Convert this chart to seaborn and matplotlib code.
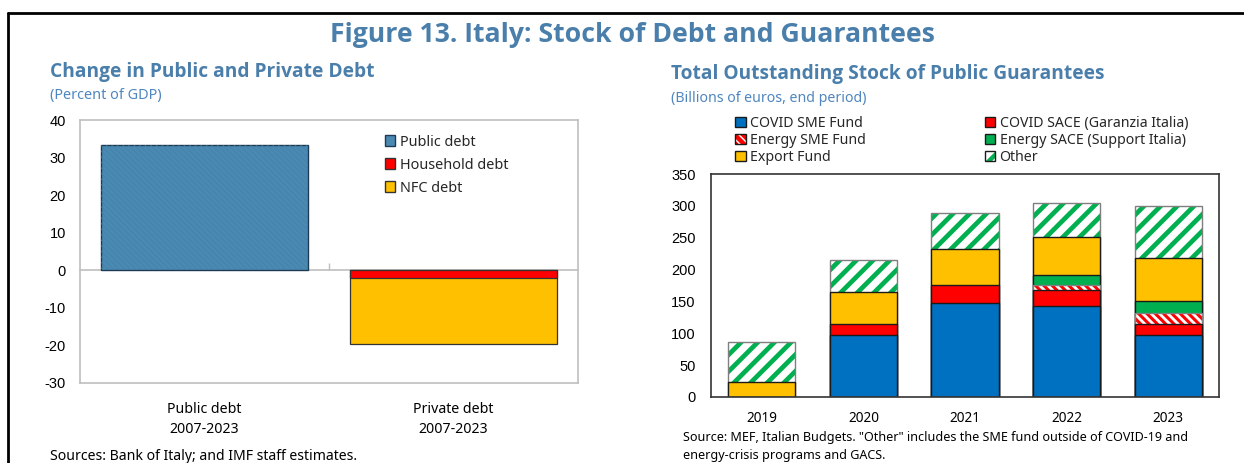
import matplotlib
matplotlib.use("Agg")
import matplotlib.pyplot as plt
from matplotlib.patches import Patch
from matplotlib.lines import Line2D
import numpy as np
import pandas as pd
import seaborn as sns

# ---- data -------------------------------------------------------------
debt_categories = ["Public debt\n2007-2023", "Private debt\n2007-2023"]
public_debt = [33.4, 0.0]
household_debt = [0.0, -2.0]
nfc_debt = [0.0, -17.7]

years = ["2019", "2020", "2021", "2022", "2023"]
covid_sme_fund = [0, 97, 148, 143, 97]
covid_sace = [0, 18, 28, 25, 18]
energy_sme_fund = [0, 0, 0, 8, 17]
energy_sace = [0, 0, 0, 16, 18]
export_fund = [23, 50, 56, 59, 68]
other = [63, 50, 57, 53, 82]

# ---- style ------------------------------------------------------------
sns.set_theme(style="white")
plt.rcParams["font.family"] = ["Noto Sans", "DejaVu Sans"]
plt.rcParams["axes.unicode_minus"] = False
plt.rcParams["hatch.linewidth"] = 3.2

TITLE_BLUE = "#4A7EAB"
SUB_BLUE = "#4F86BF"
BLUE = "#0070C0"
RED = "#FF0000"
YELLOW = "#FFC000"
GREEN = "#00B050"
PUB_BLUE = "#4A8AB2"
EDGE = "#1A1A1A"

fig = plt.figure(figsize=(12.44, 4.63), dpi=100)


def px(x, y):
    return x / 1244, 1 - y / 463


def set_hatch_lw(patches, lw):
    for p in patches:
        try:
            p.set_hatch_linewidth(lw)
        except AttributeError:
            pass


# outer frame (left and top edges)
fig.add_artist(Line2D([8 / 1244, 8 / 1244], [0, 1 - 12.5 / 463], color="black", lw=2,
                      transform=fig.transFigure))
fig.add_artist(Line2D([8 / 1244, 1.0], [1 - 12.5 / 463, 1 - 12.5 / 463], color="black", lw=2,
                      transform=fig.transFigure))

fig.text(*px(632, 35), "Figure 13. Italy: Stock of Debt and Guarantees", ha="center", va="center",
         fontsize=19.2, fontweight="bold", color=TITLE_BLUE, family="Open Sans")

# ======================================================================
# Left panel: change in public and private debt
# ======================================================================
axL = fig.add_axes([80 / 1244, 1 - 383 / 463, 498 / 1244, 263 / 463])

fig.text(*px(50, 72), "Change in Public and Private Debt", ha="left", va="center",
         fontsize=13.8, fontweight="bold", color=TITLE_BLUE, family="Open Sans")
fig.text(*px(50, 95), "(Percent of GDP)", ha="left", va="center", fontsize=10.4, color=SUB_BLUE)

dfL = pd.DataFrame({"cat": debt_categories, "public": public_debt,
                    "household": household_debt, "nfc": nfc_debt})
dfL["hh_nfc"] = dfL["household"] + dfL["nfc"]

BAR_WL = 0.835
pub = dfL[dfL["public"] != 0]
sns.barplot(data=pub, x="cat", y="public", order=debt_categories, color=PUB_BLUE,
            saturation=1, width=BAR_WL, edgecolor="#1E3A52", linewidth=1.0, ax=axL)
# fine diagonal texture on the public debt bar
n0 = len(axL.patches)
sns.barplot(data=pub, x="cat", y="public", order=debt_categories, color="none",
            saturation=1, width=BAR_WL, edgecolor="#4380A8", linewidth=0, hatch="\\\\\\\\\\\\",
            fill=False, ax=axL)
set_hatch_lw(axL.patches[n0:], 0.5)

priv = dfL[dfL["hh_nfc"] != 0]
sns.barplot(data=priv, x="cat", y="hh_nfc", order=debt_categories, color=YELLOW,
            saturation=1, width=BAR_WL, edgecolor="#333333", linewidth=0.9, ax=axL)
sns.barplot(data=priv, x="cat", y="household", order=debt_categories, color=RED,
            saturation=1, width=BAR_WL, edgecolor="#333333", linewidth=0.9, ax=axL)

axL.set_ylim(-30, 40)
axL.set_xlim(-0.5, 1.5)
axL.set_yticks(np.arange(-30, 41, 10))
axL.set_ylabel("")
axL.set_xlabel("")
for s in axL.spines.values():
    s.set_color("#BFBFBF")
    s.set_linewidth(1.2)
axL.tick_params(axis="y", direction="in", length=5, width=1, color="#BFBFBF", pad=10,
                labelsize=10.5, labelcolor="black")
axL.tick_params(axis="x", length=0, pad=14, labelsize=10.2, labelcolor="black")
for lab in axL.get_yticklabels():
    lab.set_family(["Liberation Sans", "DejaVu Sans"])
for lab in axL.get_xticklabels():
    lab.set_linespacing(1.4)

# category axis crossing at zero, with a divider tick between the two groups
zero_axis = axL.secondary_xaxis(30 / 70)
zero_axis.set_xticks([0.5])
zero_axis.set_xticklabels([""])
zero_axis.tick_params(axis="x", direction="in", length=5, width=1, color="#BFBFBF")
zero_axis.spines["bottom"].set_color("#BFBFBF")
zero_axis.spines["bottom"].set_linewidth(1.2)

legL = [Patch(facecolor=PUB_BLUE, edgecolor="#1E3A52", label="Public debt"),
        Patch(facecolor=RED, edgecolor="#333333", label="Household debt"),
        Patch(facecolor=YELLOW, edgecolor="#333333", label="NFC debt")]
axL.legend(handles=legL, loc="upper left", bbox_to_anchor=(0.600, 0.966), frameon=False,
           fontsize=10.4, handlelength=0.75, handleheight=0.75, handletextpad=0.3,
           labelspacing=0.55, borderaxespad=0)

fig.text(*px(50, 457), "Sources: Bank of Italy; and IMF staff estimates.", ha="left",
         va="center", fontsize=10.1, color="black")

# ======================================================================
# Right panel: outstanding stock of public guarantees
# ======================================================================
axR = fig.add_axes([711 / 1244, 1 - 397 / 463, 508 / 1244, 223 / 463])

fig.text(*px(671, 74), "Total Outstanding Stock of Public Guarantees", ha="left", va="center",
         fontsize=13.8, fontweight="bold", color=TITLE_BLUE, family="Open Sans")
fig.text(*px(671, 99), "(Billions of euros, end period)", ha="left", va="center",
         fontsize=10.2, color=SUB_BLUE)

layers = [
    ("COVID SME Fund", covid_sme_fund, dict(color=BLUE)),
    ("COVID SACE (Garanzia Italia)", covid_sace, dict(color=RED)),
    ("Energy SME Fund", energy_sme_fund, dict(hatch_color=RED, hatch="\\\\\\\\", hlw=2.2)),
    ("Energy SACE (Support Italia)", energy_sace, dict(color=GREEN)),
    ("Export Fund", export_fund, dict(color=YELLOW)),
    ("Other", other, dict(hatch_color=GREEN, hatch="//", hlw=3.4)),
]

dfR = pd.DataFrame({"year": years})
running = np.zeros(len(years))
for name, vals, _ in layers:
    running = running + np.array(vals, dtype=float)
    dfR[name] = running.copy()

BAR_W = 0.66
# draw cumulative totals from the top layer down so each segment sits on the one below
for name, vals, st in reversed(layers):
    sub = dfR[np.array(vals) != 0]
    if "hatch" in st:
        n0 = len(axR.patches)
        sns.barplot(data=sub, x="year", y=name, order=years, color="white", saturation=1,
                    width=BAR_W, linewidth=0, edgecolor=st["hatch_color"], hatch=st["hatch"],
                    ax=axR)
        set_hatch_lw(axR.patches[n0:], st["hlw"])
        sns.barplot(data=sub, x="year", y=name, order=years, color="none", saturation=1,
                    width=BAR_W, linewidth=1.0, edgecolor="#7F7F7F", fill=False, ax=axR)
    else:
        sns.barplot(data=sub, x="year", y=name, order=years, color=st["color"], saturation=1,
                    width=BAR_W, linewidth=1.0, edgecolor=EDGE, ax=axR)

axR.set_ylim(0, 350)
axR.set_xlim(-0.5, 4.5)
axR.set_yticks(np.arange(0, 351, 50))
axR.set_xlabel("")
axR.set_ylabel("")
for s in axR.spines.values():
    s.set_color("#333333")
    s.set_linewidth(1.2)
axR.tick_params(axis="y", direction="in", length=5, width=1, color="#333333", pad=11,
                labelsize=10.5, labelcolor="black")
axR.tick_params(axis="x", length=0, pad=10, labelsize=9.8, labelcolor="black")
for lab in axR.get_yticklabels():
    lab.set_family(["Liberation Sans", "DejaVu Sans"])


def hatched_handle(color, hatch, lw):
    h = Patch(facecolor="white", edgecolor=color, linewidth=0, hatch=hatch)
    set_hatch_lw([h], lw)
    return (h, Patch(facecolor="none", edgecolor=EDGE, linewidth=1.0))


handlesR = [
    Patch(facecolor=BLUE, edgecolor=EDGE),
    hatched_handle(RED, "\\\\\\\\", 2.2),
    Patch(facecolor=YELLOW, edgecolor=EDGE),
    Patch(facecolor=RED, edgecolor=EDGE),
    Patch(facecolor=GREEN, edgecolor=EDGE),
    hatched_handle(GREEN, "//", 2.2),
]
labelsR = ["COVID SME Fund", "Energy SME Fund", "Export Fund",
           "COVID SACE (Garanzia Italia)", "Energy SACE (Support Italia)", "Other"]
axR.legend(handlesR, labelsR, loc="lower left", bbox_to_anchor=(735 / 1244, 1 - 165 / 463),
           bbox_transform=fig.transFigure, ncol=2, frameon=False, fontsize=10.2,
           handlelength=0.75, handleheight=0.75, handletextpad=0.3, labelspacing=0.15,
           columnspacing=8.4, borderaxespad=0, borderpad=0)

fig.text(*px(683, 438), "Source: MEF, Italian Budgets. \"Other\" includes the SME fund outside of COVID-19 and",
         ha="left", va="center", fontsize=9.05, color="black")
fig.text(*px(683, 456), "energy-crisis programs and GACS.", ha="left", va="center",
         fontsize=9.05, color="black")

fig.savefig("out.png", dpi=100)
